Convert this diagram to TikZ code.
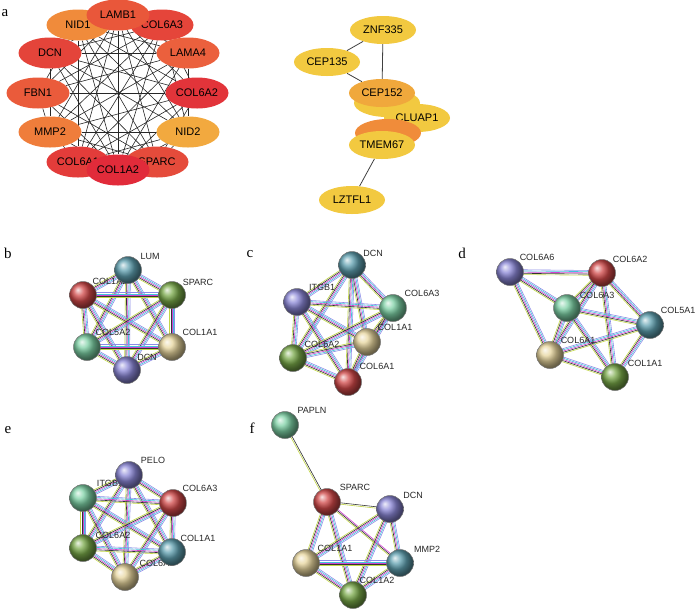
\documentclass[tikz,border=0pt]{standalone}
\usepackage{fontspec}
\setmainfont{Liberation Serif}
\setsansfont{Liberation Sans}
\usetikzlibrary{shapes.geometric,calc,backgrounds}

% node colours, panel a
\definecolor{hLAMB}{HTML}{E9573A}
\definecolor{hNIDa}{HTML}{F08B3B}
\definecolor{hCOLc}{HTML}{E5453A}
\definecolor{hDCN}{HTML}{E4443A}
\definecolor{hLAMA}{HTML}{EB603D}
\definecolor{hFBN}{HTML}{EA5B3B}
\definecolor{hCOLb}{HTML}{E2343A}
\definecolor{hMMP}{HTML}{EF7D3B}
\definecolor{hNIDb}{HTML}{F2A93F}
\definecolor{hCOLa}{HTML}{E33C3A}
\definecolor{hSPARC}{HTML}{E54B3B}
\definecolor{hCOLd}{HTML}{E12B3A}
\definecolor{cYel}{HTML}{F2C940}
\definecolor{cOra}{HTML}{F0A83C}
\definecolor{cDeep}{HTML}{F08C3A}
% protein spheres
\definecolor{pTeal}{HTML}{5E9FAF}
\definecolor{pRed}{HTML}{D04848}
\definecolor{pGreen}{HTML}{78A848}
\definecolor{pMint}{HTML}{7CD0A4}
\definecolor{pTan}{HTML}{E6D49C}
\definecolor{pPurple}{HTML}{8A86D6}
% evidence strands
\definecolor{strY}{HTML}{C2D648}
\definecolor{strK}{HTML}{333333}
\definecolor{strM}{HTML}{D040D0}
\definecolor{strC}{HTML}{40C4DC}
\definecolor{strL}{HTML}{8C8CE6}

\tikzset{
  plabel/.style={font=\fontsize{15}{16}\selectfont, inner sep=0pt},
  hubnode/.style={ellipse, minimum width=63pt, minimum height=31pt, inner sep=0pt,
    font=\sffamily\fontsize{11}{12}\selectfont},
  modnode/.style={ellipse, minimum width=66pt, minimum height=28pt, inner sep=0pt,
    font=\sffamily\fontsize{11}{12}\selectfont, fill=cYel},
  hubedge/.style={black!85, line width=0.6pt},
  modedge/.style={black!75, line width=0.8pt},
  protein/.style={circle, minimum size=27pt, inner sep=0pt, draw=black!55,
    line width=0.5pt, shading=ball, ball color=#1},
  gname/.style={font=\sffamily\fontsize{9}{10}\selectfont, text=black!85, inner sep=1pt},
}

% one STRING edge as a bundle of coloured strands
\newcommand{\strlink}[3][strY/-2.4,strK/-1.2,strM/0,strC/1.2,strL/2.4]{%
  \foreach \lc/\lo in {#1}{%
    \draw[\lc, line width=0.6pt] ($(#2)!\lo pt!90:(#3)$) -- ($(#3)!\lo pt!-90:(#2)$);}}

\begin{document}
\begin{tikzpicture}[x=1pt,y=-1pt]
\useasboundingbox (0,0) rectangle (700,614);

\node[plabel] (la) at (5,13) {a};
\node[plabel] (lb) at (8,253) {b};
\node[plabel] (lc) at (250,254) {c};
\node[plabel] (ld) at (462,253) {d};
\node[plabel] (le) at (8,430) {e};
\node[plabel] (lf) at (252,428) {f};

% a: hub genes
\node[hubnode, fill=hNIDa] (aNID1) at (78,25) {NID1};
\node[hubnode, fill=hCOLc] (aCOL6A3) at (162,25) {COL6A3};
\node[hubnode, fill=hLAMB] (aLAMB1) at (118,15) {LAMB1};
\node[hubnode, fill=hDCN] (aDCN) at (50,53) {DCN};
\node[hubnode, fill=hLAMA] (aLAMA4) at (188,53) {LAMA4};
\node[hubnode, fill=hFBN] (aFBN1) at (38,93) {FBN1};
\node[hubnode, fill=hCOLb] (aCOL6A2) at (197,93) {COL6A2};
\node[hubnode, fill=hMMP] (aMMP2) at (50,132) {MMP2};
\node[hubnode, fill=hNIDb] (aNID2) at (188,132) {NID2};
\node[hubnode, fill=hCOLa] (aCOL6A1) at (78,162) {COL6A1};
\node[hubnode, fill=hSPARC] (aSPARC) at (157,162) {SPARC};
\node[hubnode, fill=hCOLd] (aCOL1A2) at (118,170) {COL1A2};
\begin{scope}[on background layer]
  \foreach \u/\v in {LAMB1/COL1A2,LAMB1/COL6A1,LAMB1/SPARC,LAMB1/MMP2,LAMB1/NID2,LAMB1/DCN,
      LAMB1/LAMA4,LAMB1/COL6A2,LAMB1/FBN1,NID1/COL1A2,NID1/SPARC,NID1/COL6A2,NID1/LAMA4,
      NID1/NID2,NID1/COL6A1,NID1/FBN1,COL6A3/COL6A1,COL6A3/COL1A2,COL6A3/DCN,COL6A3/FBN1,
      COL6A3/MMP2,COL6A3/COL6A2,COL6A3/NID2,DCN/COL6A2,DCN/SPARC,DCN/COL1A2,DCN/NID2,
      DCN/LAMA4,DCN/MMP2,LAMA4/FBN1,LAMA4/MMP2,LAMA4/COL6A1,LAMA4/COL1A2,LAMA4/NID2,
      FBN1/COL6A2,FBN1/SPARC,FBN1/COL1A2,FBN1/MMP2,COL6A2/MMP2,COL6A2/COL6A1,COL6A2/COL1A2,
      COL6A2/SPARC,MMP2/SPARC,MMP2/COL1A2,MMP2/NID2,MMP2/COL6A1,NID2/COL6A1,NID2/COL1A2,
      NID2/SPARC}
    \draw[hubedge] (a\u) -- (a\v);
\end{scope}

% a: module
\node[modnode] (aZNF335) at (383,30) {ZNF335};
\node[modnode] (aCEP135) at (327,62) {CEP135};
\node[modnode] (aHid) at (387,103) {};
\node[modnode] (aCLUAP1) at (417,118) {CLUAP1};
\node[modnode, fill=cOra] (aCEP152) at (382,93) {CEP152};
\node[modnode, fill=cDeep] (aHidb) at (388,133) {};
\node[modnode] (aTMEM67) at (382,145) {TMEM67};
\node[modnode] (aLZTFL1) at (352,200) {LZTFL1};
\begin{scope}[on background layer]
  \draw[modedge] (aZNF335) -- (aCEP135);
  \draw[modedge] (aZNF335) -- (aCEP152);
  \draw[modedge] (aCEP135) -- (aCEP152);
  \draw[modedge] (aTMEM67) -- (aLZTFL1);
\end{scope}

% b
\node[gname] (tbCOL1A2) at (110,281) {COL1A2};
\node[gname] (tbLUM) at (150,256) {LUM};
\node[gname] (tbSPARC) at (198,282) {SPARC};
\node[gname] (tbCOL5A2) at (113,332) {COL5A2};
\node[gname] (tbCOL1A1) at (200,332) {COL1A1};
\node[gname] (tbDCN) at (147,357) {DCN};
\node[protein=pTeal] (bLUM) at (128,270) {};
\node[protein=pRed] (bCOL1A2) at (83,295) {};
\node[protein=pGreen] (bSPARC) at (172,295) {};
\node[protein=pMint] (bCOL5A2) at (87,347) {};
\node[protein=pTan] (bCOL1A1) at (172,347) {};
\node[protein=pPurple] (bDCN) at (127,370) {};
\begin{scope}[on background layer]
  \foreach \u/\v in {LUM/COL1A2,LUM/SPARC,LUM/COL5A2,LUM/COL1A1,LUM/DCN,COL1A2/SPARC,
      COL1A2/COL5A2,COL1A2/COL1A1,COL1A2/DCN,SPARC/COL5A2,SPARC/COL1A1,SPARC/DCN,
      COL5A2/COL1A1,COL5A2/DCN,COL1A1/DCN}
    \strlink{b\u}{b\v};
\end{scope}

% c
\node[gname] (tcDCN) at (373,253) {DCN};
\node[gname] (tcITGB1) at (322,287) {ITGB1};
\node[gname] (tcCOL6A3) at (422,293) {COL6A3};
\node[gname] (tcCOL1A1) at (395,327) {COL1A1};
\node[gname] (tcCOL6A2) at (322,344) {COL6A2};
\node[gname] (tcCOL6A1) at (377,366) {COL6A1};
\node[protein=pTeal] (cDCN) at (352,265) {};
\node[protein=pPurple] (cITGB1) at (297,302) {};
\node[protein=pMint] (cCOL6A3) at (393,308) {};
\node[protein=pTan] (cCOL1A1) at (367,342) {};
\node[protein=pGreen] (cCOL6A2) at (293,358) {};
\node[protein=pRed] (cCOL6A1) at (348,382) {};
\begin{scope}[on background layer]
  \foreach \u/\v in {DCN/ITGB1,DCN/COL6A3,DCN/COL1A1,DCN/COL6A2,DCN/COL6A1,ITGB1/COL6A3,
      ITGB1/COL1A1,ITGB1/COL6A2,ITGB1/COL6A1,COL6A3/COL1A1,COL6A3/COL6A2,COL6A3/COL6A1,
      COL1A1/COL6A2,COL1A1/COL6A1,COL6A2/COL6A1}
    \strlink{c\u}{c\v};
\end{scope}

% d
\node[gname] (tdCOL6A6) at (537,257) {COL6A6};
\node[gname] (tdCOL6A2) at (630,259) {COL6A2};
\node[gname] (tdCOL6A3) at (597,295) {COL6A3};
\node[gname] (tdCOL5A1) at (678,310) {COL5A1};
\node[gname] (tdCOL6A1) at (578,340) {COL6A1};
\node[gname] (tdCOL1A1) at (645,363) {COL1A1};
\node[protein=pPurple] (dCOL6A6) at (510,272) {};
\node[protein=pRed] (dCOL6A2) at (602,273) {};
\node[protein=pMint] (dCOL6A3) at (567,308) {};
\node[protein=pTeal] (dCOL5A1) at (650,325) {};
\node[protein=pTan] (dCOL6A1) at (550,355) {};
\node[protein=pGreen] (dCOL1A1) at (615,377) {};
\begin{scope}[on background layer]
  \foreach \u/\v in {COL6A6/COL6A2,COL6A6/COL6A3,COL6A6/COL6A1,COL6A2/COL6A3,COL6A2/COL6A1,
      COL6A2/COL5A1,COL6A2/COL1A1,COL6A3/COL5A1,COL6A3/COL6A1,COL6A3/COL1A1,
      COL6A1/COL5A1,COL6A1/COL1A1,COL5A1/COL1A1}
    \strlink{d\u}{d\v};
\end{scope}

% e
\node[gname] (teITGB1) at (110,483) {ITGB1};
\node[gname] (teCOL6A1) at (157,563) {COL6A1};
\node[gname] (tePELO) at (153,460) {PELO};
\node[gname] (teCOL6A3) at (200,488) {COL6A3};
\node[gname] (teCOL6A2) at (113,535) {COL6A2};
\node[gname] (teCOL1A1) at (198,538) {COL1A1};
\node[protein=pPurple] (ePELO) at (129,475) {};
\node[protein=pMint] (eITGB1) at (83,498) {};
\node[protein=pRed] (eCOL6A3) at (173,503) {};
\node[protein=pGreen] (eCOL6A2) at (83,548) {};
\node[protein=pTeal] (eCOL1A1) at (172,552) {};
\node[protein=pTan] (eCOL6A1) at (125,577) {};
\begin{scope}[on background layer]
  \foreach \u/\v in {PELO/ITGB1,PELO/COL6A3,PELO/COL6A2,PELO/COL1A1,PELO/COL6A1,
      ITGB1/COL6A3,ITGB1/COL6A2,ITGB1/COL1A1,ITGB1/COL6A1,COL6A3/COL6A2,COL6A3/COL1A1,
      COL6A3/COL6A1,COL6A2/COL1A1,COL6A2/COL6A1,COL1A1/COL6A1}
    \strlink{e\u}{e\v};
\end{scope}

% f
\node[gname] (tfPAPLN) at (312,410) {PAPLN};
\node[gname] (tfSPARC) at (355,487) {SPARC};
\node[gname] (tfDCN) at (413,495) {DCN};
\node[gname] (tfCOL1A1) at (335,548) {COL1A1};
\node[gname] (tfMMP2) at (427,549) {MMP2};
\node[gname] (tfCOL1A2) at (377,580) {COL1A2};
\node[protein=pMint] (fPAPLN) at (285,425) {};
\node[protein=pRed] (fSPARC) at (327,502) {};
\node[protein=pPurple] (fDCN) at (390,509) {};
\node[protein=pTan] (fCOL1A1) at (306,563) {};
\node[protein=pTeal] (fMMP2) at (400,563) {};
\node[protein=pGreen] (fCOL1A2) at (353,595) {};
\begin{scope}[on background layer]
  \strlink[strY/-0.7,strK/0.7]{fPAPLN}{fSPARC}
  \strlink[strY/-0.7,strK/0.7]{fSPARC}{fDCN}
  \strlink[strY/-1.2,strK/0,strM/1.2]{fSPARC}{fMMP2}
  \foreach \u/\v in {SPARC/COL1A1,SPARC/COL1A2,DCN/COL1A1,DCN/COL1A2,DCN/MMP2,
      COL1A1/MMP2,COL1A1/COL1A2,MMP2/COL1A2}
    \strlink{f\u}{f\v};
\end{scope}
\end{tikzpicture}
\end{document}
